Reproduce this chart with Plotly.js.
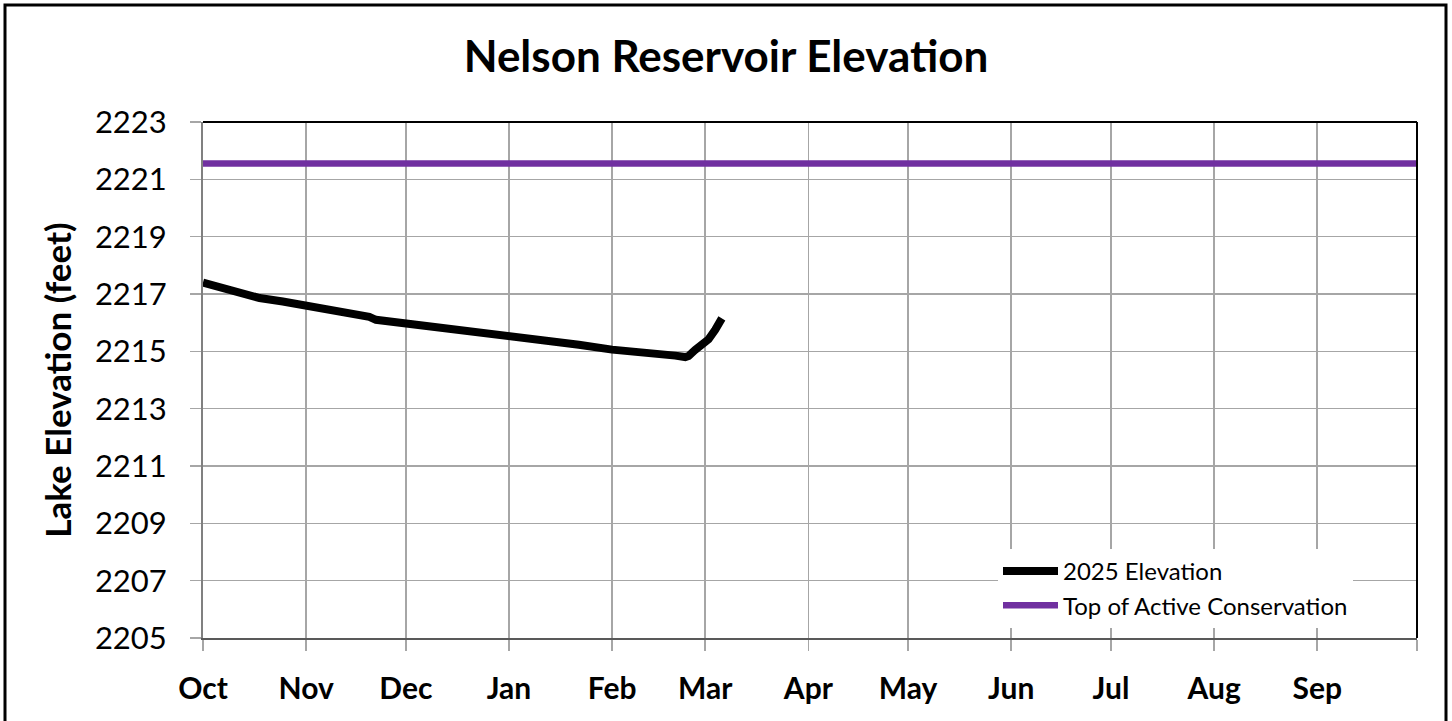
<!DOCTYPE html>
<html>
<head>
<meta charset="utf-8">
<script src="https://cdn.plot.ly/plotly-3.0.1.min.js"></script>
<style>
html,body{margin:0;padding:0;background:#fff;}
#chart{width:1452px;height:721px;}
</style>
</head>
<body>
<div id="chart"></div>
<script>
// ---- data ----
const elevDates = [
  "2024-10-01","2024-10-04","2024-10-08","2024-10-13","2024-10-18","2024-10-25",
  "2024-11-01","2024-11-07","2024-11-12","2024-11-18","2024-11-20","2024-11-22","2024-11-28",
  "2024-12-01","2024-12-08","2024-12-15","2024-12-22",
  "2025-01-01","2025-01-07","2025-01-13","2025-01-22",
  "2025-02-01","2025-02-03","2025-02-05","2025-02-08","2025-02-14","2025-02-20","2025-02-23","2025-02-24",
  "2025-02-26","2025-02-28","2025-03-02","2025-03-04","2025-03-06"
];
const elevValues = [
  2217.40,2217.30,2217.20,2217.02,2216.86,2216.74,
  2216.60,2216.48,2216.37,2216.24,2216.20,2216.10,2216.02,
  2215.97,2215.88,2215.78,2215.68,
  2215.54,2215.45,2215.36,2215.23,
  2215.06,2215.04,2215.07,2215.01,2214.93,2214.85,2214.80,2214.84,
  2215.05,2215.28,2215.42,2215.75,2216.15
];
const conservDates = ["2024-10-01","2025-10-01"];
const conservValues = [2221.55, 2221.55];

const monthTickVals = ["2024-10-01","2024-11-01","2024-12-01","2025-01-01","2025-02-01","2025-03-01",
  "2025-04-01","2025-05-01","2025-06-01","2025-07-01","2025-08-01","2025-09-01","2025-10-01"];
const monthTickText = ["Oct","Nov","Dec","Jan","Feb","Mar","Apr","May","Jun","Jul","Aug","Sep",""];
const yTickVals = [2205,2207,2209,2211,2213,2215,2217,2219,2221,2223];

const FONT = "Lato, 'Open Sans', sans-serif";

const traces = [
  {
    x: elevDates, y: elevValues, type: "scatter", mode: "lines",
    name: "2025 Elevation",
    line: {color: "#000000", width: 8}
  },
  {
    x: conservDates, y: conservValues, type: "scatter", mode: "lines",
    name: "Top of Active Conservation",
    line: {color: "#7030A0", width: 6.5}
  }
];

// plot area: l=203, r=1417, t=122, b=638
const L = 203, R = 1417, T = 122, B = 638, W = 1452, H = 721;
const pw = R - L, ph = B - T;
const px = v => (v - L) / pw;
const py = v => (B - v) / ph;

const layout = {
  width: W, height: H,
  margin: {l: L, r: W - R, t: T, b: H - B, pad: 0},
  paper_bgcolor: "#ffffff", plot_bgcolor: "#ffffff",
  font: {family: FONT, color: "#000000"},
  title: {
    text: "<b>Nelson Reservoir Elevation</b>",
    font: {family: FONT, size: 44, color: "#000"},
    x: 726 / W, xref: "container", xanchor: "center",
    y: 1 - 57 / H, yref: "container", yanchor: "middle"
  },
  showlegend: true,
  legend: {
    x: px(998), y: py(549), xanchor: "left", yanchor: "top",
    bgcolor: "#ffffff", borderwidth: 0,
    font: {family: FONT, size: 24, color: "#000"},
    itemwidth: 55, tracegroupgap: 0
  },
  xaxis: {
    type: "date",
    range: ["2024-10-01", "2025-10-01"],
    tickmode: "array", tickvals: monthTickVals, ticktext: monthTickText,
    tickfont: {family: FONT, size: 30, color: "#000", weight: "bold"},
    ticks: "outside", ticklen: 11, tickwidth: 1.5, tickcolor: "#A6A6A6",
    ticklabelstandoff: 12,
    showgrid: true, gridcolor: "#A6A6A6", gridwidth: 1.5,
    showline: true, linecolor: "#595959", linewidth: 2,
    zeroline: false, fixedrange: true
  },
  yaxis: {
    range: [2205, 2223],
    tickmode: "array", tickvals: yTickVals,
    tickfont: {family: FONT, size: 31, color: "#000"},
    ticks: "outside", ticklen: 11, tickwidth: 1.5, tickcolor: "#A6A6A6",
    ticklabelstandoff: 17,
    showgrid: true, gridcolor: "#A6A6A6", gridwidth: 1.5,
    showline: true, linecolor: "#808080", linewidth: 2,
    zeroline: false, fixedrange: true,
    title: {
      text: "<b>Lake Elevation (feet)</b>",
      font: {family: FONT, size: 35, color: "#000"},
      standoff: 13
    }
  },
  shapes: [
    // top and right border of plot area
    {type: "line", xref: "paper", yref: "paper", x0: 0, x1: 1, y0: 1, y1: 1,
     line: {color: "#000", width: 2}, layer: "above"},
    {type: "line", xref: "paper", yref: "paper", x0: 1, x1: 1, y0: 0, y1: 1,
     line: {color: "#000", width: 2}, layer: "above"},
    // outer chart frame
    {type: "rect", xref: "paper", yref: "paper",
     x0: px(5), x1: px(1446), y0: py(730), y1: py(5),
     line: {color: "#000", width: 3}, fillcolor: "rgba(0,0,0,0)", layer: "above"}
  ]
};

Plotly.newPlot("chart", traces, layout, {displayModeBar: false, staticPlot: true});
</script>
</body>
</html>
